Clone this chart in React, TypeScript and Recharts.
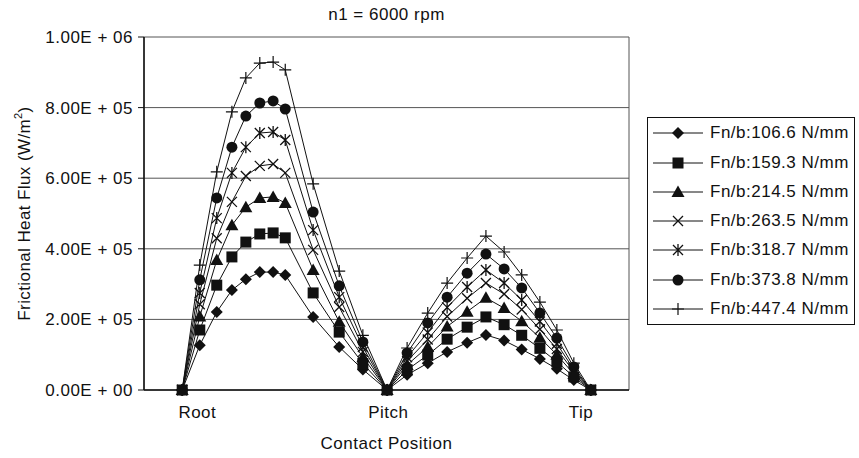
import { LineChart, Line, XAxis, YAxis, CartesianGrid } from 'recharts'

// contact position along the flank, in grid units (8 divisions)
const positions = [
  0.63, 0.92, 1.2, 1.45, 1.68, 1.91, 2.13, 2.33, 2.79, 3.22, 3.61, 4.01,
  4.34, 4.68, 5.0, 5.33, 5.64, 5.94, 6.23, 6.53, 6.81, 7.09, 7.37,
]

const gridTicks = [0, 1, 2, 3, 4, 5, 6, 7, 8]
const positionLabels = ['Root', 'Pitch', 'Tip']
const positionLabelTicks = [0.88, 4.03, 7.21]
const fluxTicks = [0, 200000, 400000, 600000, 800000, 1000000]

const loadNames = [
  'Fn/b:106.6 N/mm',
  'Fn/b:159.3 N/mm',
  'Fn/b:214.5 N/mm',
  'Fn/b:263.5 N/mm',
  'Fn/b:318.7 N/mm',
  'Fn/b:373.8 N/mm',
  'Fn/b:447.4 N/mm',
]

// frictional heat flux, W/m^2
const flux1066 = [0, 127e3, 221e3, 283e3, 314e3, 334e3, 334e3, 326e3, 207e3, 122e3, 58e3, 0, 43e3, 76e3, 108e3, 134e3, 156e3, 140e3, 115e3, 88e3, 60e3, 28e3, 0]
const flux1593 = [0, 170e3, 297e3, 377e3, 419e3, 442e3, 445e3, 431e3, 275e3, 164e3, 75e3, 0, 57e3, 99e3, 144e3, 178e3, 207e3, 185e3, 155e3, 118e3, 80e3, 37e3, 0]
const flux2145 = [0, 208e3, 368e3, 467e3, 518e3, 544e3, 547e3, 530e3, 340e3, 193e3, 93e3, 0, 71e3, 122e3, 180e3, 222e3, 261e3, 232e3, 195e3, 148e3, 100e3, 45e3, 0]
const flux2635 = [0, 243e3, 430e3, 533e3, 606e3, 635e3, 640e3, 615e3, 397e3, 235e3, 108e3, 0, 82e3, 143e3, 208e3, 260e3, 303e3, 272e3, 228e3, 172e3, 116e3, 52e3, 0]
const flux3187 = [0, 275e3, 487e3, 615e3, 688e3, 728e3, 731e3, 708e3, 453e3, 263e3, 122e3, 0, 93e3, 163e3, 234e3, 292e3, 340e3, 303e3, 255e3, 194e3, 131e3, 58e3, 0]
const flux3738 = [0, 312e3, 544e3, 688e3, 776e3, 813e3, 819e3, 796e3, 504e3, 295e3, 136e3, 0, 105e3, 190e3, 263e3, 331e3, 385e3, 343e3, 289e3, 218e3, 147e3, 65e3, 0]
const flux4474 = [0, 354e3, 618e3, 788e3, 884e3, 926e3, 929e3, 907e3, 584e3, 337e3, 155e3, 0, 119e3, 218e3, 303e3, 374e3, 436e3, 391e3, 326e3, 249e3, 170e3, 76e3, 0]

const shapes = ['diamond', 'square', 'triangle', 'cross', 'star', 'circle', 'plus']
const fluxSeries = [flux1066, flux1593, flux2145, flux2635, flux3187, flux3738, flux4474]

const series = loadNames.map((name, i) => ({ key: `s${i}`, name, shape: shapes[i], values: fluxSeries[i] }))
const rows = positions.map((x, j) => {
  const row: Record<string, number> = { x }
  series.forEach((s) => (row[s.key] = s.values[j]))
  return row
})

// square goes last so the shared zero points read as squares, like the original
const drawOrder = [6, 5, 4, 3, 2, 0, 1]

const INK = '#111'
const textStyle = { fontSize: 17, fill: INK, letterSpacing: 0.5 }

function Marker({ shape, cx, cy }: { shape: string; cx: number; cy: number }) {
  switch (shape) {
    case 'diamond':
      return <polygon points={`${cx},${cy - 6} ${cx + 6},${cy} ${cx},${cy + 6} ${cx - 6},${cy}`} fill={INK} />
    case 'square':
      return <rect x={cx - 5.5} y={cy - 5.5} width={11} height={11} fill={INK} />
    case 'triangle':
      return <polygon points={`${cx},${cy - 6.5} ${cx + 6.5},${cy + 5} ${cx - 6.5},${cy + 5}`} fill={INK} />
    case 'cross':
      return <path d={`M${cx - 5},${cy - 5}L${cx + 5},${cy + 5}M${cx - 5},${cy + 5}L${cx + 5},${cy - 5}`} stroke={INK} strokeWidth={1.3} fill="none" />
    case 'star':
      return (
        <path
          d={`M${cx - 5},${cy - 5}L${cx + 5},${cy + 5}M${cx - 5},${cy + 5}L${cx + 5},${cy - 5}M${cx},${cy - 6}L${cx},${cy + 6}`}
          stroke={INK}
          strokeWidth={1.3}
          fill="none"
        />
      )
    case 'circle':
      return <circle cx={cx} cy={cy} r={5.5} fill={INK} />
    default:
      return <path d={`M${cx - 6},${cy}H${cx + 6}M${cx},${cy - 6}V${cy + 6}`} stroke={INK} strokeWidth={1.2} fill="none" />
  }
}

function sci(v: number) {
  if (v === 0) return '0.00E + 00'
  const e = Math.floor(Math.log10(v))
  const m = v / Math.pow(10, e)
  return `${m.toFixed(2)}E + ${String(e).padStart(2, '0')}`
}

function FluxLabel(props: any) {
  const vb = props.viewBox
  const cx = vb.x + 24
  const cy = vb.y + vb.height / 2
  return (
    <text
      x={cx}
      y={cy}
      transform={`rotate(-90 ${cx} ${cy})`}
      textAnchor="middle"
      dominantBaseline="central"
      fontSize={17}
      letterSpacing={0.4}
      fill={INK}
    >
      Frictional Heat Flux (W/m
      <tspan dy={-6} fontSize={11}>2</tspan>
      <tspan dy={6}>)</tspan>
    </text>
  )
}

export default function App() {
  return (
    <div style={{ position: 'relative', width: 859, height: 458, fontFamily: '"Liberation Sans", Arial, sans-serif', background: '#fff' }}>
      <style>{'body{margin:0}'}</style>
      <div
        style={{ position: 'absolute', left: 144, top: 6, width: 485, textAlign: 'center', fontSize: 17, letterSpacing: 0.5, lineHeight: '18px', color: INK }}
      >
        n1 = 6000 rpm
      </div>
      <LineChart width={859} height={458} data={rows} margin={{ top: 37, right: 230, bottom: 0, left: 0 }}>
        <CartesianGrid xAxisId="grid" stroke="#555" strokeWidth={1} />
        <XAxis
          xAxisId="grid"
          dataKey="x"
          type="number"
          domain={[0, 8]}
          ticks={gridTicks}
          tick={false}
          tickSize={6}
          height={1}
          axisLine={{ stroke: INK, strokeWidth: 1.5 }}
          tickLine={{ stroke: INK }}
        />
        <XAxis
          xAxisId="labels"
          dataKey="x"
          type="number"
          domain={[0, 8]}
          ticks={positionLabelTicks}
          tickFormatter={(_v: number, i: number) => positionLabels[i]}
          axisLine={false}
          tickLine={false}
          tickSize={0}
          tickMargin={15}
          height={67}
          tick={textStyle}
          label={{ value: 'Contact Position', position: 'insideBottom', offset: 9, ...textStyle }}
        />
        <YAxis
          width={144}
          domain={[0, 1000000]}
          ticks={fluxTicks}
          tickFormatter={sci}
          tickSize={6}
          tickMargin={5}
          axisLine={{ stroke: INK, strokeWidth: 1.5 }}
          tickLine={{ stroke: INK }}
          tick={textStyle}
          label={{ content: FluxLabel }}
        />
        {drawOrder.map((i) => {
          const s = series[i]
          return (
            <Line
              key={s.key}
              xAxisId="grid"
              dataKey={s.key}
              name={s.name}
              type="linear"
              stroke={INK}
              strokeWidth={1}
              isAnimationActive={false}
              activeDot={false}
              dot={(p: any) => <Marker key={`${s.key}-${p.index}`} shape={s.shape} cx={p.cx} cy={p.cy} />}
            />
          )
        })}
      </LineChart>
      <div
        style={{
          position: 'absolute',
          left: 647,
          top: 117,
          width: 208,
          height: 208,
          border: `1.5px solid ${INK}`,
          boxSizing: 'border-box',
          display: 'flex',
          flexDirection: 'column',
          justifyContent: 'space-evenly',
        }}
      >
        {series.map((s) => (
          <div key={s.key} style={{ display: 'flex', alignItems: 'center', height: 28 }}>
            <svg width={57} height={20} style={{ marginLeft: 2, marginRight: 3 }}>
              <line x1={3} y1={10} x2={53} y2={10} stroke={INK} strokeWidth={1} />
              <Marker shape={s.shape} cx={28} cy={10} />
            </svg>
            <span style={{ fontSize: 17, letterSpacing: 0.5, color: INK, whiteSpace: 'nowrap' }}>{s.name}</span>
          </div>
        ))}
      </div>
    </div>
  )
}
